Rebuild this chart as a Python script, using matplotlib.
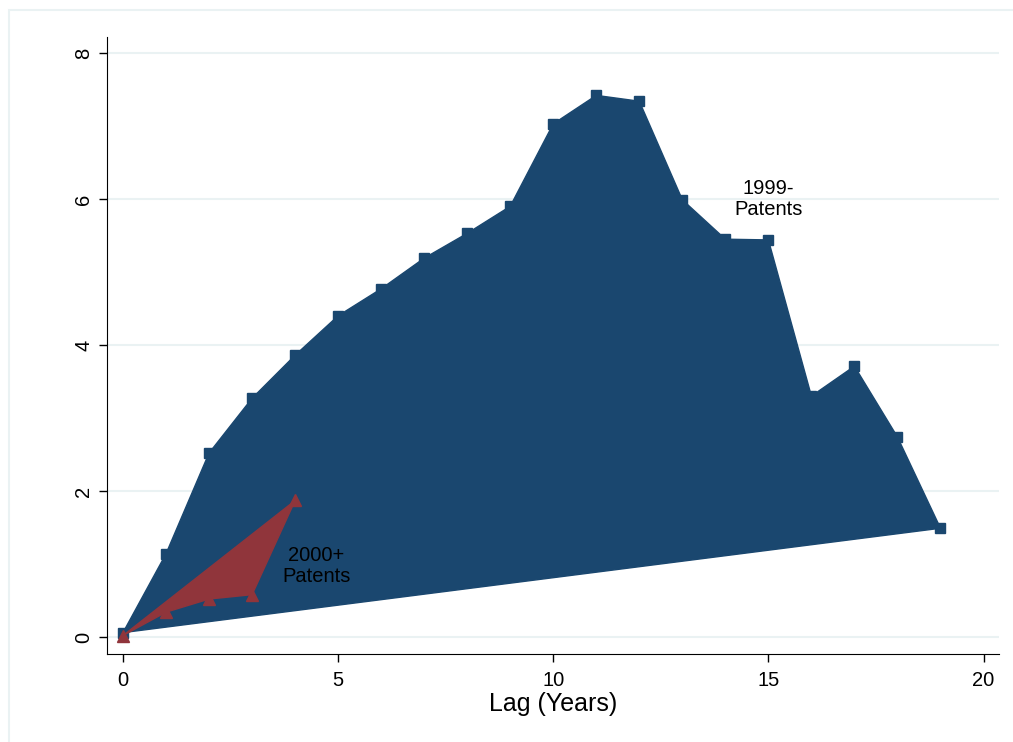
import matplotlib
matplotlib.use("Agg")
import matplotlib.pyplot as plt
from matplotlib.patches import Rectangle

# data
lag_old = [0, 1, 2, 3, 4, 5, 6, 7, 8, 9, 10, 11, 12, 13, 14, 15, 16, 17, 18, 19]
val_old = [0.06, 1.14, 2.52, 3.27, 3.86, 4.40, 4.77, 5.19, 5.53, 5.90,
           7.03, 7.42, 7.34, 5.99, 5.45, 5.44, 3.30, 3.71, 2.74, 1.49]
lag_new = [0, 1, 2, 3, 4]
val_new = [0.02, 0.34, 0.52, 0.58, 1.87]

xticks = [0, 5, 10, 15, 20]
yticks = [0, 2, 4, 6, 8]

COLOR_BLUE = "#1a476f"
COLOR_RED = "#90353b"
COLOR_GRID = "#eaf2f3"

plt.rcParams['font.family'] = ['Liberation Sans', 'DejaVu Sans']

fig = plt.figure(figsize=(10.13, 7.42), dpi=100, facecolor="white")
fig.patches.append(Rectangle((9 / 1013, -0.1), 1.2, 1 - 10 / 742 + 0.1,
                             transform=fig.transFigure, fill=False,
                             edgecolor=COLOR_GRID, linewidth=1.5))

ax = fig.add_axes([107 / 1013, 1 - 654 / 742, (999 - 107) / 1013, (654 - 37) / 742])
ax.set_xlim(-0.372, 20.36)
ax.set_ylim(-0.233, 8.22)

for y in yticks:
    ax.axhline(y, color=COLOR_GRID, linewidth=1.5, zorder=0)

# stata-style area: polygon closed back to the first point
ax.fill(lag_old, val_old, facecolor=COLOR_BLUE, edgecolor=COLOR_BLUE, linewidth=1, zorder=2)
ax.plot(lag_old, val_old, linestyle="none", marker="s", markersize=7,
        color=COLOR_BLUE, zorder=3)
ax.fill(lag_new, val_new, facecolor=COLOR_RED, edgecolor=COLOR_RED, linewidth=1, zorder=4)
ax.plot(lag_new, val_new, linestyle="none", marker="^", markersize=9,
        color=COLOR_RED, zorder=5)

ax.text(15, 6.0, "1999-\nPatents", ha="center", va="center", fontsize=14.5,
        linespacing=1.1, zorder=6)
ax.text(4.5, 0.97, "2000+\nPatents", ha="center", va="center", fontsize=14.5,
        linespacing=1.1, zorder=6)

ax.set_xticks(xticks)
ax.set_yticks(yticks)
ax.tick_params(direction="out", length=6, width=1, labelsize=14.5)
ax.tick_params(axis="x", pad=6)
ax.tick_params(axis="y", pad=4)
for lbl in ax.get_yticklabels():
    lbl.set_rotation(90)
    lbl.set_va("center")
ax.spines['top'].set_visible(False)
ax.spines['right'].set_visible(False)
ax.set_xlabel("Lag (Years)", fontsize=18, labelpad=2)

fig.savefig("out.png", dpi=100, facecolor="white")
